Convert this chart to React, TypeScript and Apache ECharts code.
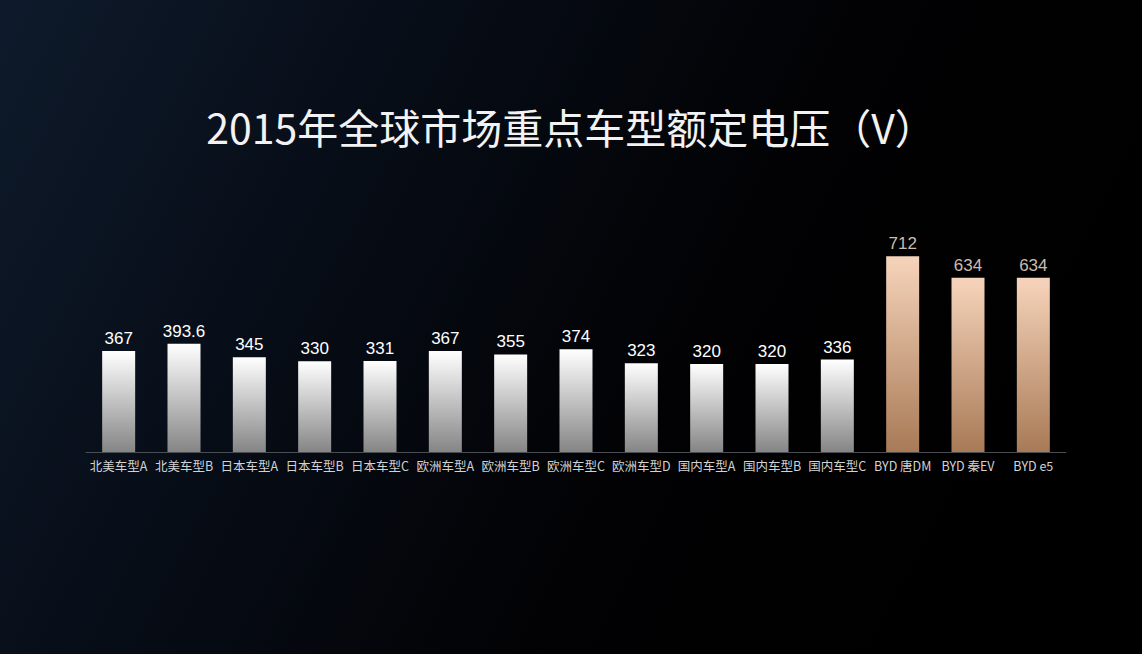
import { useEffect, useRef } from 'react'
import * as echarts from 'echarts'

const models = [
  '北美车型A', '北美车型B', '日本车型A', '日本车型B', '日本车型C',
  '欧洲车型A', '欧洲车型B', '欧洲车型C', '欧洲车型D',
  '国内车型A', '国内车型B', '国内车型C',
  'BYD 唐DM', 'BYD 秦EV', 'BYD e5'
]
const voltages = [367, 393.6, 345, 330, 331, 367, 355, 374, 323, 320, 320, 336, 712, 634, 634]

const isByd = (name: string) => name.startsWith('BYD')

export default function App() {
  const chartRef = useRef<HTMLDivElement>(null)

  useEffect(() => {
    if (!chartRef.current) return
    const chart = echarts.init(chartRef.current, undefined, { renderer: 'svg' })

    const whiteBar = new echarts.graphic.LinearGradient(0, 0, 0, 1, [
      { offset: 0, color: '#ffffff' },
      { offset: 1, color: '#858585' }
    ])
    const goldBar = new echarts.graphic.LinearGradient(0, 0, 0, 1, [
      { offset: 0, color: '#f6d4bb' },
      { offset: 1, color: '#a87a56' }
    ])

    chart.setOption({
      animation: false,
      backgroundColor: new echarts.graphic.LinearGradient(0, 0, 1, 0.3, [
        { offset: 0, color: '#0e1a2b' },
        { offset: 0.4, color: '#060b14' },
        { offset: 0.7, color: '#020204' },
        { offset: 1, color: '#000000' }
      ]),
      title: {
        text: '2015年全球市场重点车型额定电压（V）',
        left: 'center',
        top: 100,
        textStyle: {
          color: '#f2f2f2',
          fontSize: 41,
          fontWeight: 'normal',
          fontFamily: 'Noto Sans CJK SC'
        }
      },
      grid: {
        left: 86,
        width: 980,
        top: 177,
        height: 275
      },
      xAxis: {
        type: 'category',
        data: models,
        axisTick: { show: false },
        axisLine: { lineStyle: { color: '#4a4d52', width: 1 } },
        axisLabel: {
          color: '#d2d2d2',
          fontSize: 12.5,
          margin: 7,
          interval: 0,
          fontFamily: 'Noto Sans CJK SC'
        }
      },
      yAxis: {
        type: 'value',
        min: 0,
        max: 1000,
        show: false
      },
      series: [
        {
          type: 'bar',
          barWidth: 33,
          data: voltages.map((v, i) => ({
            value: v,
            itemStyle: { color: isByd(models[i]) ? goldBar : whiteBar },
            label: { color: isByd(models[i]) ? '#cbbcae' : '#ffffff' }
          })),
          label: {
            show: true,
            position: 'top',
            distance: 4,
            fontSize: 17,
            fontFamily: 'Liberation Sans'
          }
        }
      ]
    })

    return () => {
      chart.dispose()
    }
  }, [])

  return (
    <div
      ref={chartRef}
      style={{ position: 'fixed', left: 0, top: 0, width: 1142, height: 654 }}
    />
  )
}
